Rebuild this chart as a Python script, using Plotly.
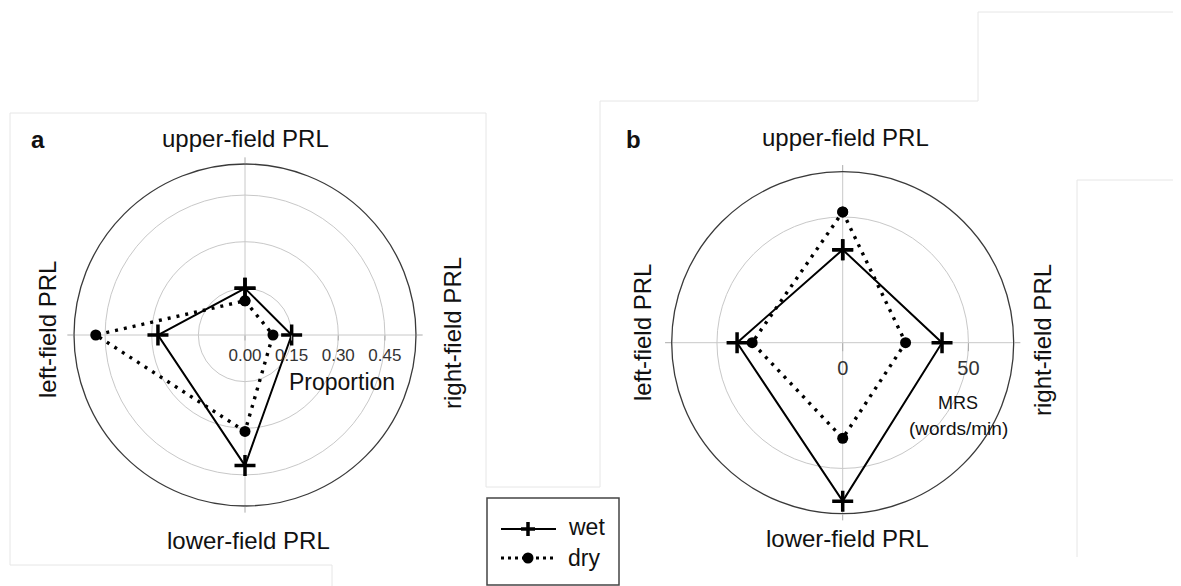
import plotly.graph_objects as go

# page is rendered with an 8px body margin; design in page pixels and convert
OFF = 8
W, H = 1181 - OFF, 586 - OFF

# ---------------- data ----------------
categories = ["upper-field PRL", "right-field PRL", "lower-field PRL", "left-field PRL"]
angular_order = ["right-field PRL", "upper-field PRL", "left-field PRL", "lower-field PRL"]

prop_wet = [0.15, 0.15, 0.42, 0.28]
prop_dry = [0.11, 0.09, 0.31, 0.48]

mrs_wet = [37, 39.5, 63, 42]
mrs_dry = [52, 25, 38, 36]

prop_ticks = [0, 0.15, 0.30, 0.45]
prop_ticktext = ["0.00", "0.15", "0.30", "0.45"]
mrs_ticks = [0, 50]
mrs_ticktext = ["0", "50"]

series_names = ["wet", "dry"]

FONT = "Liberation Sans, Arial, sans-serif"


def px(x):
    return (x - OFF) / W


def py(y):
    return (H - (y - OFF)) / H


def closed(v):
    return list(v) + [v[0]]


def polar_domain(cx, cy, r):
    return dict(x=[px(cx - r), px(cx + r)], y=[py(cy + r), py(cy - r)])


fig = go.Figure()

wet_style = dict(mode="lines+markers",
                 line=dict(color="black", width=2),
                 marker=dict(symbol="cross-thin", size=15, color="black",
                             line=dict(color="black", width=3.5)))
dry_style = dict(mode="lines+markers",
                 line=dict(color="black", width=3.4, dash="3px,6px"),
                 marker=dict(symbol="circle", size=11, color="black"))

fig.add_trace(go.Scatterpolar(r=closed(prop_wet), theta=closed(categories), name=series_names[0],
                              subplot="polar", showlegend=False, **wet_style))
fig.add_trace(go.Scatterpolar(r=closed(prop_dry), theta=closed(categories), name=series_names[1],
                              subplot="polar", showlegend=False, **dry_style))
fig.add_trace(go.Scatterpolar(r=closed(mrs_wet), theta=closed(categories), name=series_names[0],
                              subplot="polar2", showlegend=False, **wet_style))
fig.add_trace(go.Scatterpolar(r=closed(mrs_dry), theta=closed(categories), name=series_names[1],
                              subplot="polar2", showlegend=False, **dry_style))

GRID = "#c8c8c8"


def angular():
    return dict(type="category", categoryarray=angular_order, rotation=0,
                direction="counterclockwise", showline=True, linecolor="#3a3a3a",
                linewidth=1.3, gridcolor=GRID, gridwidth=1.2, ticks="outside",
                ticklen=6, tickcolor="#aaaaaa", showticklabels=False)


fig.update_layout(
    width=W, height=H,
    margin=dict(l=0, r=0, t=0, b=0),
    paper_bgcolor="white", plot_bgcolor="white",
    font=dict(family=FONT, color="#111"),
    showlegend=False,
    polar=dict(
        domain=polar_domain(245, 335, 171), bgcolor="rgba(0,0,0,0)",
        radialaxis=dict(range=[0, 0.55], tickvals=prop_ticks, ticktext=prop_ticktext,
                        showline=False, gridcolor=GRID, gridwidth=1.2, ticks="outside",
                        ticklen=5, tickcolor="#aaaaaa", angle=0, tickangle=0,
                        side="clockwise", tickfont=dict(size=17, color="#333")),
        angularaxis=angular(),
    ),
    polar2=dict(
        domain=polar_domain(842.7, 342.7, 171), bgcolor="rgba(0,0,0,0)",
        radialaxis=dict(range=[0, 68], tickvals=mrs_ticks, ticktext=mrs_ticktext,
                        showline=False, gridcolor=GRID, gridwidth=1.2, ticks="outside",
                        ticklen=8, tickcolor="#aaaaaa", angle=0, tickangle=0,
                        side="clockwise", tickfont=dict(size=20, color="#333")),
        angularaxis=angular(),
    ),
)

shapes = []
FAINT = "#e6e6e6"


def seg(x0, y0, x1, y1, color=FAINT, width=1, dash=None, layer="below"):
    d = dict(type="line", xref="paper", yref="paper", x0=px(x0), y0=py(y0),
             x1=px(x1), y1=py(y1), line=dict(color=color, width=width), layer=layer)
    if dash:
        d["line"]["dash"] = dash
    shapes.append(d)


# faint frame edges of the composed panels
seg(10, 113, 486, 113)
seg(10, 113, 10, 565)
seg(10, 565, 332, 565)
seg(332, 565, 332, 586)
seg(486, 113, 486, 487)
seg(486, 487, 600, 487)
seg(600, 101, 600, 487)
seg(600, 101, 978, 101)
seg(978, 12, 978, 101)
seg(978, 12, 1181, 12)
seg(1077, 180, 1181, 180)
seg(1077, 180, 1077, 557)

# legend box
shapes.append(dict(type="rect", xref="paper", yref="paper", x0=px(487), x1=px(619),
                   y0=py(585), y1=py(498), line=dict(color="#444", width=1.5),
                   fillcolor="white", layer="above"))
seg(501, 529, 556, 529, color="black", width=2, layer="above")
seg(528, 522, 528, 536, color="black", width=3.5, layer="above")
seg(521, 529, 535, 529, color="black", width=3.5, layer="above")
seg(501, 558, 556, 558, color="black", width=3, dash="3px,4px", layer="above")
shapes.append(dict(type="circle", xref="paper", yref="paper", x0=px(522.5), x1=px(533.5),
                   y0=py(563.5), y1=py(552.5), fillcolor="black", line=dict(color="black", width=0),
                   layer="above"))
fig.update_layout(shapes=shapes)

ann = []


def text(t, x, y, size, angle=0, bold=False, xanchor="center", color="#111"):
    ann.append(dict(text=f"<b>{t}</b>" if bold else t, x=px(x), y=py(y), xref="paper",
                    yref="paper", showarrow=False, textangle=angle, xanchor=xanchor,
                    yanchor="middle", font=dict(size=size, family=FONT, color=color)))


text("a", 38, 140, 24, bold=True)
text("b", 633, 140, 24, bold=True)
# panel a labels
text(categories[0], 245, 138, 24)
text(categories[2], 248, 540, 24)
text(categories[3], 47, 330, 24, angle=-90)
text(categories[1], 452, 333, 24, angle=-90)
text("Proportion", 342, 382, 23)
# panel b labels
text(categories[0], 845, 137, 24)
text(categories[2], 847, 538, 24)
text(categories[3], 642, 333, 24, angle=-90)
text(categories[1], 1043, 340, 24, angle=-90)
text("MRS", 958, 403, 18)
text("(words/min)", 958, 428, 19)
# legend labels
text(series_names[0], 566, 527, 23, xanchor="left")
text(series_names[1], 566, 558, 23, xanchor="left")
fig.update_layout(annotations=ann)

fig.write_html("out.html")
